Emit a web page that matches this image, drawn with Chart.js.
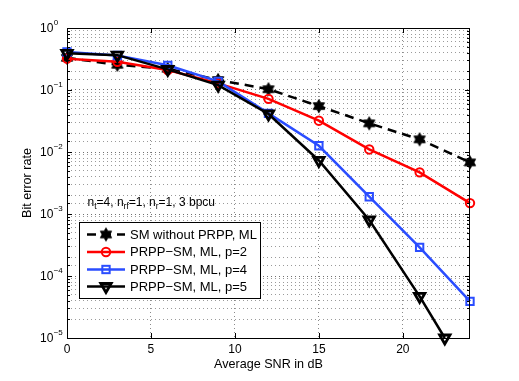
<!DOCTYPE html>
<html>
<head>
<meta charset="utf-8">
<script src="https://cdn.jsdelivr.net/npm/chart.js"></script>
<style>
html,body{margin:0;padding:0;background:#fff;}
#wrap{width:519px;height:381px;position:relative;}
</style>
</head>
<body>
<div id="wrap"><canvas id="c" width="519" height="381"></canvas></div>
<script>
// ---- data ----
const snr   = [0, 3, 6, 9, 12, 15, 18, 21, 24];
const snrP5 = [0, 3, 6, 9, 12, 15, 18, 21, 22.5];
const berSM = [0.33, 0.255, 0.22, 0.145, 0.103, 0.055, 0.029, 0.016, 0.0068];
const berP2 = [0.32, 0.285, 0.21, 0.128, 0.072, 0.032, 0.011, 0.0047, 0.0015];
const berP4 = [0.41, 0.36, 0.25, 0.138, 0.042, 0.0126, 0.0019, 0.00029, 0.000039];
const berP5 = [0.39, 0.365, 0.215, 0.12, 0.041, 0.0073, 0.0008, 0.000047, 0.00001];
const seriesLabels = ['SM without PRPP, ML', 'PRPP\u2212SM, ML, p=2', 'PRPP\u2212SM, ML, p=4', 'PRPP\u2212SM, ML, p=5'];
const yDecades = [0, -1, -2, -3, -4, -5];
const xTickStep = 5;
const xTitle = 'Average SNR in dB';
const yTitle = 'Bit error rate';
const annotationParts = [['n',0],['t',1],['=4, n',0],['rf',1],['=1, n',0],['r',1],['=1, 3 bpcu',0]];

const FONT = '"Liberation Sans", Arial, Helvetica, sans-serif';

// hexagram marker image
function makeHexagram(R, color){
  const s = Math.ceil(R*2+3);
  const cv = document.createElement('canvas');
  cv.width = s; cv.height = s;
  const g = cv.getContext('2d');
  const c = s/2;
  g.fillStyle = color; g.strokeStyle = color; g.lineWidth = 1;
  g.beginPath();
  const r = R/Math.sqrt(3);
  for (let i=0;i<12;i++){
    const ang = -Math.PI/2 + i*Math.PI/6;
    const rr = (i%2===0)?R:r;
    const px = c + rr*Math.cos(ang), py = c + rr*Math.sin(ang);
    if(i===0) g.moveTo(px,py); else g.lineTo(px,py);
  }
  g.closePath(); g.fill(); g.stroke();
  return cv;
}
const hexImg = makeHexagram(6.5, '#000');

const pts = (xs, ys) => xs.map((x,i)=>({x, y: ys[i]}));

const styles = [
  {color:'#000000', dash:[9,6], marker:'hex'},
  {color:'#ff0000', dash:[], marker:'circle'},
  {color:'#2a4dff', dash:[], marker:'rect'},
  {color:'#000000', dash:[], marker:'tri'}
];

const datasets = [
  {label: seriesLabels[0], data: pts(snr, berSM), borderColor:'#000', borderWidth:2.5, borderDash:[9,6],
   pointStyle: hexImg, pointRadius:6, order:3},
  {label: seriesLabels[1], data: pts(snr, berP2), borderColor:'#ff0000', borderWidth:2.5,
   pointStyle:'circle', pointRadius:4.2, pointBorderWidth:2, pointBorderColor:'#ff0000', pointBackgroundColor:'rgba(0,0,0,0)', order:2},
  {label: seriesLabels[2], data: pts(snr, berP4), borderColor:'#2a4dff', borderWidth:2.5,
   pointStyle:'rect', pointRadius:5.2, pointBorderWidth:2, pointBorderColor:'#2a4dff', pointBackgroundColor:'rgba(0,0,0,0)', order:1},
  {label: seriesLabels[3], data: pts(snrP5, berP5), borderColor:'#000', borderWidth:2.5,
   pointStyle:'triangle', pointRotation:180, pointRadius:6, pointBorderWidth:2.8, pointBorderColor:'#000', pointBackgroundColor:'rgba(0,0,0,0)', order:0}
];
datasets.forEach(d=>{ d.fill=false; d.tension=0; d.clip=false; d.pointHoverRadius=d.pointRadius; });

function isDecade(v){ const l=Math.log10(v); return Math.abs(l-Math.round(l))<1e-9; }

function drawMarker(ctx, kind, x, y, color){
  ctx.save();
  ctx.setLineDash([]);
  ctx.strokeStyle=color; ctx.fillStyle=color;
  if(kind==='hex'){ ctx.drawImage(hexImg, x-hexImg.width/2, y-hexImg.height/2); }
  else if(kind==='circle'){ ctx.lineWidth=2; ctx.beginPath(); ctx.arc(x,y,4.2,0,Math.PI*2); ctx.stroke(); }
  else if(kind==='rect'){ const s=5.2*Math.SQRT1_2; ctx.lineWidth=2; ctx.strokeRect(x-s,y-s,2*s,2*s); }
  else if(kind==='tri'){
    ctx.lineWidth=2.8; ctx.beginPath();
    const r=6;
    ctx.moveTo(x, y+r);
    ctx.lineTo(x - r*Math.sin(Math.PI/3), y - r*0.5);
    ctx.lineTo(x + r*Math.sin(Math.PI/3), y - r*0.5);
    ctx.closePath(); ctx.stroke();
  }
  ctx.restore();
}

const overlay = {
  id:'overlay',
  afterDatasetsDraw(chart){
    const {ctx, chartArea:a, scales:{x, y}} = chart;
    ctx.save();
    ctx.setLineDash([]);
    ctx.strokeStyle='#000'; ctx.lineWidth=1;
    // inward ticks, y
    y.ticks.forEach(t=>{
      const py = Math.round(y.getPixelForValue(t.value))+0.5;
      const len = isDecade(t.value)?5:3;
      ctx.beginPath();
      ctx.moveTo(a.left, py); ctx.lineTo(a.left+len, py);
      ctx.moveTo(a.right, py); ctx.lineTo(a.right-len, py);
      ctx.stroke();
    });
    // inward ticks, x
    x.ticks.forEach(t=>{
      const px = Math.round(x.getPixelForValue(t.value))+0.5;
      ctx.beginPath();
      ctx.moveTo(px, a.bottom); ctx.lineTo(px, a.bottom-5);
      ctx.moveTo(px, a.top); ctx.lineTo(px, a.top+5);
      ctx.stroke();
    });
    // box
    ctx.strokeRect(Math.round(a.left)+0.5, Math.round(a.top)+0.5, Math.round(a.right-a.left)-1, Math.round(a.bottom-a.top));
    // y tick labels 10^e
    ctx.fillStyle='#000';
    ctx.textBaseline='middle'; ctx.textAlign='left';
    yDecades.forEach(e=>{
      const py = y.getPixelForValue(Math.pow(10,e));
      ctx.font = '12px '+FONT;
      ctx.fillText('10', 40, py+0.5);
      const w = ctx.measureText('10').width;
      ctx.font = '8px '+FONT;
      ctx.fillText(e===0?'0':'\u2212'+(-e), 40+w+0.3, py-5);
    });
    // annotation
    let ax = 87.5;
    const ay = 202.5;
    annotationParts.forEach(([txt, sub])=>{
      ctx.font = (sub? '8.5px ':'12px ')+FONT;
      ctx.textBaseline='middle';
      ctx.fillText(txt, ax, ay + (sub?4.5:0));
      ax += ctx.measureText(txt).width;
    });
    // legend
    const lx=79.5, ly=222.5, lw=181, lh=76;
    ctx.fillStyle='#fff'; ctx.fillRect(lx,ly,lw,lh);
    ctx.strokeStyle='#000'; ctx.lineWidth=1; ctx.strokeRect(lx,ly,lw,lh);
    const rows=[234.5, 252, 269.5, 286.5];
    seriesLabels.forEach((lab,i)=>{
      const st = styles[i];
      const ry = rows[i];
      ctx.save();
      ctx.strokeStyle = st.color; ctx.lineWidth=2.5; ctx.setLineDash(st.dash);
      ctx.beginPath(); ctx.moveTo(87, ry); ctx.lineTo(125, ry); ctx.stroke();
      ctx.restore();
      drawMarker(ctx, st.marker, 106, ry, st.color);
      ctx.fillStyle='#000'; ctx.font='13px '+FONT; ctx.textBaseline='middle'; ctx.textAlign='left';
      ctx.fillText(lab, 130, ry+0.5);
    });
    ctx.restore();
  }
};

new Chart(document.getElementById('c'), {
  type:'line',
  data:{datasets},
  plugins:[overlay],
  options:{
    responsive:false,
    animation:false,
    devicePixelRatio:1,
    layout:{padding:{left:0, top:28, right:49, bottom:0}},
    plugins:{legend:{display:false}, tooltip:{enabled:false}},
    scales:{
      x:{
        type:'linear', min:0, max:24,
        afterFit(s){ s.height = 43; },
        ticks:{stepSize:xTickStep, includeBounds:false, color:'#000', font:{family:FONT, size:12}, padding:4.5, maxRotation:0},
        grid:{color:'#8a8a8a', lineWidth:1, drawTicks:false},
        border:{display:false, dash:[1,3]},
        title:{display:true, text:xTitle, color:'#000', font:{family:FONT, size:12.6}, padding:{top:0, bottom:8.5}}
      },
      y:{
        type:'logarithmic', min:1e-5, max:1,
        afterFit(s){ s.width = 67; },
        ticks:{display:false},
        grid:{color:(c)=> (c.tick && isDecade(c.tick.value)) ? '#707070' : '#9a9a9a', lineWidth:1, drawTicks:false},
        border:{display:false, dash:[1,3]},
        title:{display:true, text:yTitle, color:'#000', font:{family:FONT, size:12.6}, padding:{top:20, bottom:0}}
      }
    }
  }
});
</script>
</body>
</html>
